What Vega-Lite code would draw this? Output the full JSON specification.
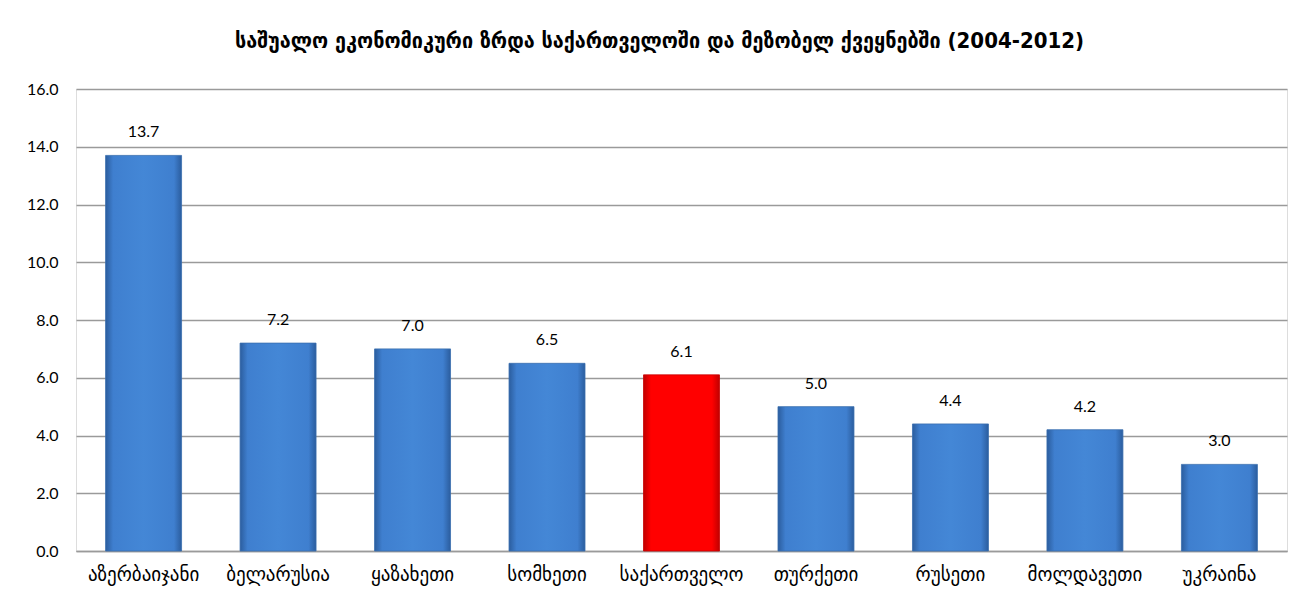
{
  "$schema": "https://vega.github.io/schema/vega-lite/v6.json",
  "autosize": {"type": "none"},
  "width": 1211,
  "height": 462,
  "padding": {"left": 76, "top": 89, "right": 28, "bottom": 49},
  "background": "white",
  "title": {
    "text": "საშუალო ეკონომიკური ზრდა საქართველოში და მეზობელ ქვეყნებში (2004-2012)",
    "anchor": "middle",
    "frame": "group",
    "dx": -22,
    "offset": 28,
    "font": "DejaVu Sans Condensed",
    "fontSize": 22,
    "fontWeight": "bold",
    "color": "#000000"
  },
  "data": {
    "values": [
      {"country": "აზერბაიჯანი", "growth": 13.7},
      {"country": "ბელარუსია", "growth": 7.2},
      {"country": "ყაზახეთი", "growth": 7.0},
      {"country": "სომხეთი", "growth": 6.5},
      {"country": "საქართველო", "growth": 6.1},
      {"country": "თურქეთი", "growth": 5.0},
      {"country": "რუსეთი", "growth": 4.4},
      {"country": "მოლდავეთი", "growth": 4.2},
      {"country": "უკრაინა", "growth": 3.0}
    ]
  },
  "encoding": {
    "x": {
      "field": "country",
      "type": "nominal",
      "scale": {
        "domain": ["აზერბაიჯანი", "ბელარუსია", "ყაზახეთი", "სომხეთი", "საქართველო", "თურქეთი", "რუსეთი", "მოლდავეთი", "უკრაინა"],
        "paddingInner": 0.435,
        "paddingOuter": 0.22
      },
      "axis": {
        "title": null,
        "labelAngle": 0,
        "labelFont": "DejaVu Sans",
        "labelFontSize": 19,
        "labelColor": "#000000",
        "labelPadding": 14,
        "ticks": false,
        "domainColor": "#9a9a9a",
        "domainWidth": 1.5,
        "grid": false
      }
    },
    "y": {
      "field": "growth",
      "type": "quantitative",
      "scale": {"domain": [0, 16], "nice": false},
      "axis": {
        "title": null,
        "values": [0, 2, 4, 6, 8, 10, 12, 14, 16],
        "format": ".1f",
        "labelFont": "Lato",
        "labelFontSize": 16,
        "labelColor": "#000000",
        "labelPadding": 18,
        "ticks": false,
        "domain": false,
        "grid": true,
        "gridColor": "#9a9a9a",
        "gridWidth": 1.5
      }
    }
  },
  "layer": [
    {
      "transform": [{"filter": "datum.country !== 'საქართველო'"}],
      "mark": {
        "type": "bar",
        "stroke": "#3a6fae",
        "strokeWidth": 0.8,
        "color": {
          "gradient": "linear",
          "x1": 0, "y1": 0, "x2": 1, "y2": 0,
          "stops": [
            {"offset": 0, "color": "#2b5d9e"},
            {"offset": 0.1, "color": "#3f7fcf"},
            {"offset": 0.5, "color": "#4487d6"},
            {"offset": 0.9, "color": "#3f7fcf"},
            {"offset": 1, "color": "#2b5d9e"}
          ]
        }
      }
    },
    {
      "transform": [{"filter": "datum.country === 'საქართველო'"}],
      "mark": {
        "type": "bar",
        "stroke": "#c80000",
        "strokeWidth": 0.8,
        "color": {
          "gradient": "linear",
          "x1": 0, "y1": 0, "x2": 1, "y2": 0,
          "stops": [
            {"offset": 0, "color": "#c00000"},
            {"offset": 0.1, "color": "#ff0000"},
            {"offset": 0.9, "color": "#ff0000"},
            {"offset": 1, "color": "#c00000"}
          ]
        }
      }
    },
    {
      "mark": {
        "type": "text",
        "baseline": "bottom",
        "dy": -15,
        "font": "Lato",
        "fontSize": 16,
        "color": "#000000"
      },
      "encoding": {
        "text": {"field": "growth", "type": "quantitative", "format": ".1f"}
      }
    }
  ]
}
